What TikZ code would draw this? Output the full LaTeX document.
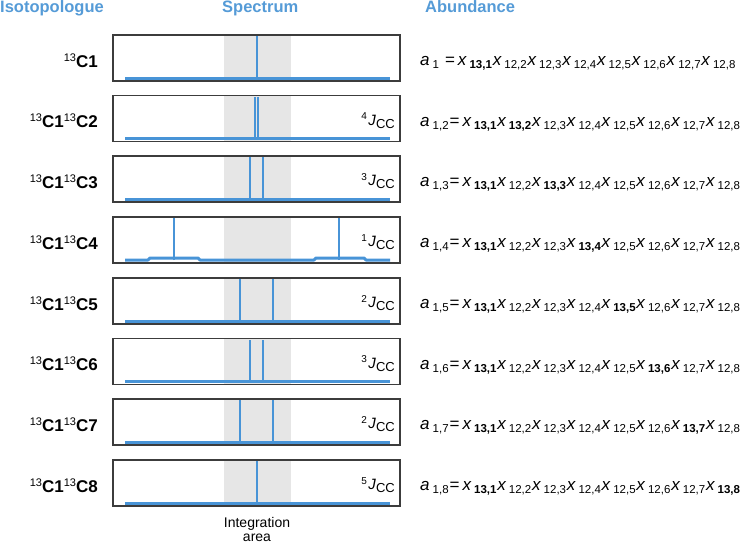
\documentclass[tikz,border=0pt]{standalone}
\usepackage{fontspec}
\setmainfont{Liberation Sans}
\definecolor{hdr}{RGB}{85,155,215}
\definecolor{specblue}{RGB}{72,148,215}
\definecolor{bandgray}{RGB}{230,230,230}
\definecolor{boxgray}{RGB}{60,60,60}
\newcommand{\fs}[1]{\fontsize{#1}{#1}\selectfont}
\newcommand{\xr}[1]{\textit{x}\hspace{2.6pt}\raisebox{-3pt}{\fs{11.5}#1}\hspace{0.8pt}}
\newcommand{\xbf}[1]{\textit{x}\hspace{2.6pt}\raisebox{-3pt}{\fs{11.5}\bfseries #1}\hspace{0.8pt}}
\newcommand{\abun}[1]{\textit{a}\hspace{3pt}\raisebox{-3pt}{\fs{11.5}#1}}
\newcommand{\isot}[1]{{\raisebox{6pt}{\fs{11}\mdseries 13}}C#1}
\newcommand{\jcc}[1]{\raisebox{5.5pt}{\fs{10}#1}\hspace{1.5pt}\textit{J}\raisebox{-3pt}{\fs{13}CC}}
\begin{document}
\begin{tikzpicture}[x=1pt,y=-1pt,
  spbox/.style={draw=boxgray,line width=1.1pt,minimum width=287pt,minimum height=46pt,inner sep=0pt},
  hdrlab/.style={font=\fs{16.5}\bfseries,text=hdr,anchor=base west,inner sep=0pt},
  isolab/.style={font=\fs{17}\bfseries,anchor=base east,inner sep=0pt},
  jlab/.style={font=\fs{15},anchor=base east,inner sep=0pt},
  eqlab/.style={font=\fs{17},anchor=base west,inner sep=0pt},
  intl/.style={font=\fs{14},anchor=base,inner sep=0pt},
  spec/.style={draw=specblue,line width=3pt,line join=round},
  pk/.style={draw=specblue,line width=2.8pt}]
\useasboundingbox (0,0) rectangle (749,543);
\node[hdrlab] (hiso) at (0,13) {Isotopologue};
\node[hdrlab] (hspec) at (222,13) {Spectrum};
\node[hdrlab] (habu) at (425,13) {Abundance};
% row macro
\newcommand{\specrow}[3]{%
  \fill[bandgray] (224,#1-23) rectangle (291,#1+23);
  \foreach \p in {#2} {\draw[pk] (\p,#1+20) -- (\p,#1-22);}
  \draw[spec] (125,#1+20) -- (390,#1+20);
  \node[spbox] (box#3) at (256.5,#1) {};
}
\specrow{58}{257}{1}
\specrow{118.5}{255,258}{2}
\specrow{179}{250,263}{3}
\fill[bandgray] (224,217) rectangle (291,263);
\draw[pk] (174,260) -- (174,218);
\draw[pk] (339,260) -- (339,218);
\draw[spec] (125,260) -- (148,260) -- (150,258) -- (198,258) -- (200,260) -- (314,260) -- (316,258) -- (364,258) -- (366,260) -- (390,260);
\node[spbox] (box4) at (256.5,240) {};
\specrow{301}{240,273}{5}
\specrow{361.5}{250,263}{6}
\specrow{422}{240,273}{7}
\specrow{483}{257}{8}
% left labels
\node[isolab] (l1) at (98,67) {\isot{1}};
\node[isolab] (l2) at (98,127.5) {\isot{1}\isot{2}};
\node[isolab] (l3) at (98,188) {\isot{1}\isot{3}};
\node[isolab] (l4) at (98,249) {\isot{1}\isot{4}};
\node[isolab] (l5) at (98,310) {\isot{1}\isot{5}};
\node[isolab] (l6) at (98,370.5) {\isot{1}\isot{6}};
\node[isolab] (l7) at (98,431) {\isot{1}\isot{7}};
\node[isolab] (l8) at (98,492) {\isot{1}\isot{8}};
% J labels
\node[jlab] (j2) at (395,125) {\jcc{4}};
\node[jlab] (j3) at (395,185.5) {\jcc{3}};
\node[jlab] (j4) at (395,246.5) {\jcc{1}};
\node[jlab] (j5) at (395,307.5) {\jcc{2}};
\node[jlab] (j6) at (395,368) {\jcc{3}};
\node[jlab] (j7) at (395,428.5) {\jcc{2}};
\node[jlab] (j8) at (395,489.5) {\jcc{5}};
% equations
\node[eqlab] (e1) at (420,65.5) {\abun{1}\hspace{6pt}=\hspace{3pt}\xbf{13,1}\xr{12,2}\xr{12,3}\xr{12,4}\xr{12,5}\xr{12,6}\xr{12,7}\xr{12,8}};
\node[eqlab] (e2) at (420,126) {\abun{1,2}\hspace{1pt}=\hspace{3pt}\xbf{13,1}\xbf{13,2}\xr{12,3}\xr{12,4}\xr{12,5}\xr{12,6}\xr{12,7}\xr{12,8}};
\node[eqlab] (e3) at (420,186.5) {\abun{1,3}\hspace{1pt}=\hspace{3pt}\xbf{13,1}\xr{12,2}\xbf{13,3}\xr{12,4}\xr{12,5}\xr{12,6}\xr{12,7}\xr{12,8}};
\node[eqlab] (e4) at (420,247.5) {\abun{1,4}\hspace{1pt}=\hspace{3pt}\xbf{13,1}\xr{12,2}\xr{12,3}\xbf{13,4}\xr{12,5}\xr{12,6}\xr{12,7}\xr{12,8}};
\node[eqlab] (e5) at (420,308.5) {\abun{1,5}\hspace{1pt}=\hspace{3pt}\xbf{13,1}\xr{12,2}\xr{12,3}\xr{12,4}\xbf{13,5}\xr{12,6}\xr{12,7}\xr{12,8}};
\node[eqlab] (e6) at (420,369) {\abun{1,6}\hspace{1pt}=\hspace{3pt}\xbf{13,1}\xr{12,2}\xr{12,3}\xr{12,4}\xr{12,5}\xbf{13,6}\xr{12,7}\xr{12,8}};
\node[eqlab] (e7) at (420,429.5) {\abun{1,7}\hspace{1pt}=\hspace{3pt}\xbf{13,1}\xr{12,2}\xr{12,3}\xr{12,4}\xr{12,5}\xr{12,6}\xbf{13,7}\xr{12,8}};
\node[eqlab] (e8) at (420,490.5) {\abun{1,8}\hspace{1pt}=\hspace{3pt}\xbf{13,1}\xr{12,2}\xr{12,3}\xr{12,4}\xr{12,5}\xr{12,6}\xr{12,7}\xbf{13,8}};
% integration area
\node[intl] (int1) at (257,527.5) {Integration};
\node[intl] (int2) at (257,541.5) {area};
\end{tikzpicture}
\end{document}
